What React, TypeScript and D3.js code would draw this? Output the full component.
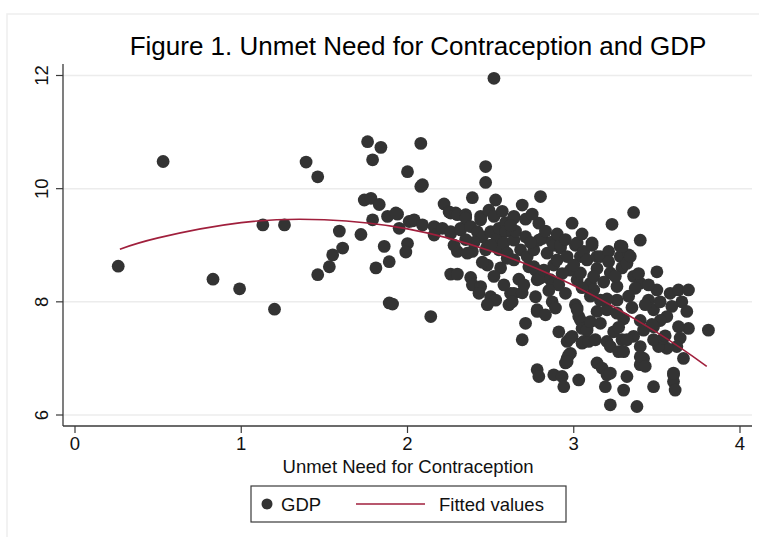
import React from "react";
import * as d3 from "d3";

// Unmet need for contraception (x) and log GDP (y)
const unmetNeed = [
  0.26, 0.53, 0.83, 0.99, 1.13, 1.2, 1.26, 1.39, 1.46, 1.46, 1.53, 1.55, 1.59, 1.61, 1.72, 1.76, 1.79, 1.84, 1.74, 1.78,
  1.83, 1.79, 1.81, 1.86, 1.88, 1.89, 1.89, 1.91, 1.94, 1.95, 1.93, 2.0, 2.08, 2.09, 2.08, 2.0, 1.99, 2.01, 2.03, 2.04,
  2.09, 2.14, 2.52,
  2.16, 2.16, 2.21, 2.22, 2.25, 2.26, 2.26, 2.26, 2.29, 2.3, 2.32, 2.32, 2.35, 2.35, 2.38, 2.39, 2.42, 2.44, 2.44, 2.45,
  2.47, 2.47, 2.49, 2.5, 2.52, 2.53, 2.54, 2.55, 2.59, 2.59, 2.3, 2.39, 2.36, 2.47, 2.48, 2.48, 2.55, 2.6, 2.26, 2.3,
  2.38, 2.39, 2.44, 2.43, 2.5, 2.53, 2.48, 2.62, 2.61, 2.58, 2.6, 2.64, 2.64, 2.63, 2.64, 2.64, 2.64, 2.69, 2.63, 2.65,
  2.69, 2.71, 2.71, 2.68, 2.72, 2.73, 2.76, 2.76, 2.77, 2.78, 2.79, 2.79, 2.8, 2.81, 2.8, 2.82, 2.84, 2.86, 2.87, 2.88,
  2.88, 2.88, 2.9, 2.91, 2.92, 2.92, 2.96, 2.98, 2.99, 3.01, 3.02, 3.02, 3.04, 3.04, 3.06, 3.08, 3.1, 3.11, 3.11, 3.12,
  3.14, 3.14, 3.16, 3.21, 3.21, 3.22, 3.23, 3.26, 3.28, 3.28, 3.28, 3.29, 3.33, 3.36, 3.4,
  2.71, 2.69, 2.77, 2.78, 2.78, 2.83, 2.87, 2.89, 2.91, 2.96, 2.99, 2.98, 3.05, 3.06, 3.09, 3.13, 3.01, 3.03, 3.02, 3.04,
  3.05, 3.08, 3.1, 3.16, 3.02, 3.14, 3.2, 3.16, 3.26, 2.96, 2.98, 2.95, 2.97, 2.96, 2.78, 2.79, 2.88, 2.93, 2.94, 3.03,
  3.14, 3.17, 3.2, 3.22, 3.19, 3.22, 3.3, 3.32, 3.2, 3.22, 3.27, 3.24, 3.29, 3.38, 3.4, 3.42, 3.48, 3.6, 3.6, 3.61, 3.6,
  3.5, 3.5, 3.58, 3.63, 3.69, 3.65, 3.59, 3.68, 3.56, 3.69, 3.81, 3.63, 3.64, 3.66, 3.62, 3.56, 3.51, 3.48, 3.54, 3.36,
  3.4, 3.37, 3.32, 3.34, 3.29, 3.39, 3.45, 3.48, 3.43, 3.52, 3.4, 3.42, 3.36, 3.4, 3.4, 3.43, 3.32, 3.3, 3.48, 3.3,
  3.27, 3.35, 3.45, 3.52, 3.55, 3.26, 3.33, 3.47,
  2.56, 2.67, 2.7, 2.74, 2.85, 2.93, 2.95, 3.0, 3.05, 3.1, 3.12, 3.18, 3.2, 3.25, 2.83, 2.9, 2.95, 3.05, 2.57, 2.62,
  2.75, 2.45, 2.52, 2.58, 2.4, 2.5, 2.35, 2.28,
];

const gdp = [
  8.63, 10.48, 8.4, 8.23, 9.36, 7.87, 9.36, 10.47, 10.21, 8.48, 8.62, 8.83, 9.25, 8.95, 9.19, 10.83, 10.51, 10.73, 9.8, 9.83,
  9.72, 9.45, 8.6, 8.98, 9.51, 8.71, 7.98, 7.96, 9.55, 9.3, 9.57, 10.3, 10.8, 10.07, 10.04, 9.03, 8.88, 9.42, 9.43, 9.45,
  9.36, 7.74, 11.95,
  9.33, 9.18, 9.3, 9.73, 9.59, 9.57, 9.21, 9.24, 9.57, 9.54, 9.3, 9.27, 9.54, 9.48, 9.33, 9.84, 9.24, 9.51, 9.45, 9.15,
  10.39, 10.11, 9.62, 9.24, 9.51, 9.8, 9.12, 9.3, 9.4, 9.24, 8.89, 8.89, 8.86, 8.92, 8.98, 8.65, 8.92, 8.77, 8.49, 8.49,
  8.43, 8.3, 8.27, 8.15, 8.09, 8.03, 7.95, 8.15, 7.95, 9.04, 8.86, 9.51, 9.48, 9.24, 9.09, 8.74, 8.15, 8.16, 8.0, 9.25,
  9.71, 9.46, 9.15, 8.92, 8.8, 8.62, 8.92, 8.62, 8.56, 8.39, 9.39, 9.09, 9.86, 9.12, 8.42, 8.56, 8.86, 8.39, 9.06, 9.0,
  8.65, 8.33, 8.74, 8.3, 8.95, 9.0, 8.8, 8.56, 9.39, 9.0, 9.04, 8.39, 8.8, 8.51, 8.89, 8.74, 8.33, 9.04, 9.0, 8.21,
  8.8, 8.59, 8.8, 8.89, 8.71, 8.51, 9.37, 8.27, 8.99, 8.98, 8.8, 8.6, 8.83, 9.58, 9.09,
  7.62, 7.33, 8.09, 7.86, 7.83, 7.77, 8.0, 7.89, 7.47, 7.3, 7.39, 7.36, 7.27, 7.3, 7.3, 7.33, 7.95, 7.74, 7.89, 7.68,
  7.53, 7.5, 7.65, 7.62, 7.86, 7.83, 7.86, 8.03, 8.03, 7.0, 7.09, 6.92, 7.06, 6.94, 6.8, 6.68, 6.71, 6.68, 6.5, 6.62,
  6.92, 6.83, 6.71, 6.74, 6.5, 6.18, 6.44, 6.68, 7.3, 7.21, 7.12, 7.47, 7.33, 6.15, 6.89, 7.0, 6.5, 6.71, 6.59, 6.44, 6.74,
  8.53, 8.21, 8.15, 8.21, 8.21, 8.0, 7.92, 7.83, 7.74, 7.53, 7.5, 7.56, 7.36, 7.0, 7.21, 7.18, 7.21, 7.33, 7.36, 8.45,
  8.33, 8.24, 8.68, 8.8, 8.98, 8.5, 8.03, 7.86, 7.95, 7.67, 7.67, 7.5, 7.39, 7.21, 7.03, 6.86, 7.33, 7.12, 7.56, 7.7,
  7.55, 7.9, 8.3, 8.0, 7.4, 7.8, 8.1, 7.6,
  8.6, 8.4, 8.3, 9.05, 8.2, 8.5, 8.15, 8.65, 8.25, 8.1, 8.45, 8.35, 8.05, 8.45, 9.25, 9.2, 9.1, 9.2, 9.6, 9.35,
  9.55, 8.7, 8.45, 8.3, 9.05, 9.0, 9.1, 9.0,
];

// Fitted values (quadratic fit)
const fitX = [0.27, 0.5, 1.0, 1.5, 2.0, 2.5, 3.0, 3.5, 3.8];
const fitY = [8.93, 9.13, 9.4, 9.45, 9.29, 8.9, 8.29, 7.46, 6.86];

const xTicks = [0, 1, 2, 3, 4];
const yTicks = [6, 8, 10, 12];

const W = 759;
const H = 537;
const FONT = "'Liberation Sans', Arial, Helvetica, sans-serif";
const DOT = "#333333";
const FIT = "#a01f3c";
const AXIS = "#3a3a3a";

const App: React.FC = () => {
  const x = d3.scaleLinear().domain([0, 4]).range([75, 740]);
  const y = d3.scaleLinear().domain([6, 12]).range([415, 75.5]);

  const plotLeft = 63;
  const plotRight = 752;
  const plotBottom = 426;
  const plotTop = 64;

  const points = unmetNeed.map((u, i) => ({ u, g: gdp[i] }));
  const fitted = fitX.map((fx, i) => ({ fx, fy: fitY[i] }));

  const line = d3
    .line<{ fx: number; fy: number }>()
    .x((d) => x(d.fx))
    .y((d) => y(d.fy))
    .curve(d3.curveNatural);

  return (
    <svg width={W} height={H} style={{ position: "absolute", left: 0, top: 0, background: "#fff" }} fontFamily={FONT}>
      <rect x={0} y={0} width={W} height={H} fill="#fff" />
      {/* faint outer graph region border */}
      <rect x={7} y={14} width={W} height={H} fill="none" stroke="#eeeeee" strokeWidth={1.5} />

      <text x={418} y={55} textAnchor="middle" fontSize={26} fill="#000">
        Figure 1. Unmet Need for Contraception and GDP
      </text>

      {/* grid lines */}
      {yTicks.map((t) => (
        <line key={"g" + t} x1={plotLeft} x2={plotRight} y1={y(t)} y2={y(t)} stroke="#ececec" strokeWidth={1.5} />
      ))}

      {/* scatter */}
      {points.map((p, i) => (
        <circle key={i} cx={x(p.u)} cy={y(p.g)} r={6.4} fill={DOT} />
      ))}

      {/* fitted values */}
      <path d={line(fitted) || ""} fill="none" stroke={FIT} strokeWidth={1.6} />

      {/* axes */}
      <line x1={plotLeft} x2={plotLeft} y1={plotTop} y2={plotBottom} stroke={AXIS} strokeWidth={1.3} />
      <line x1={plotLeft} x2={plotRight} y1={plotBottom} y2={plotBottom} stroke={AXIS} strokeWidth={1.3} />

      {yTicks.map((t) => (
        <g key={"y" + t}>
          <line x1={56} x2={plotLeft} y1={y(t)} y2={y(t)} stroke={AXIS} strokeWidth={1.2} />
          <text
            transform={`translate(48, ${y(t)}) rotate(-90)`}
            textAnchor="middle"
            fontSize={18.5}
            fill="#111"
          >
            {t}
          </text>
        </g>
      ))}

      {xTicks.map((t) => (
        <g key={"x" + t}>
          <line x1={x(t)} x2={x(t)} y1={plotBottom} y2={plotBottom + 7} stroke={AXIS} strokeWidth={1.2} />
          <text x={x(t)} y={450} textAnchor="middle" fontSize={18.5} fill="#111">
            {t}
          </text>
        </g>
      ))}

      <text x={408} y={473} textAnchor="middle" fontSize={18.5} fill="#111">
        Unmet Need for Contraception
      </text>

      {/* legend */}
      <rect x={251} y={486} width={315} height={36} fill="#fff" stroke={AXIS} strokeWidth={1.2} />
      <circle cx={267} cy={504} r={5.5} fill={DOT} />
      <text x={281} y={510.5} fontSize={18.5} fill="#111">
        GDP
      </text>
      <line x1={356} x2={425} y1={504} y2={504} stroke={FIT} strokeWidth={1.6} />
      <text x={439} y={510.5} fontSize={18.5} fill="#111">
        Fitted values
      </text>
    </svg>
  );
};

export default App;
